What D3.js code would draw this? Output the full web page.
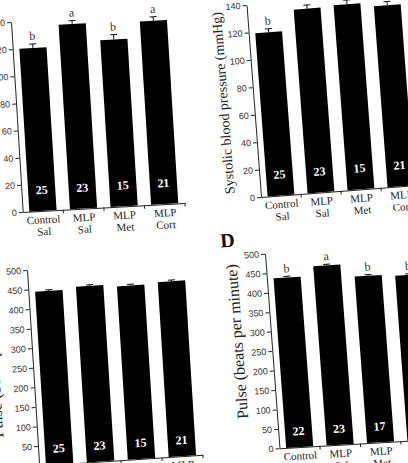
<!DOCTYPE html>
<html>
<head>
<meta charset="utf-8">
<script src="https://cdn.jsdelivr.net/npm/d3@7"></script>
<style>
  html, body { margin: 0; padding: 0; background: #fff; overflow: hidden; }
  svg { display: block; }
</style>
</head>
<body>
<svg id="fig" width="408" height="463"></svg>
<script>
/* ── Data ──────────────────────────────────────────────────────────── */

const GROUPS = [['Control', 'Sal'], ['MLP', 'Sal'], ['MLP', 'Met'], ['MLP', 'Cort']];

const BP_TICKS = [0, 20, 40, 60, 80, 100, 120, 140];
const PULSE_TICKS = [0, 50, 100, 150, 200, 250, 300, 350, 400, 450, 500];

// top left (axis title cut off)
const tlValues = [120, 136, 123, 135];
const tlErrors = [3, 2.5, 3.5, 3];
const tlLetters = ['b', 'a', 'b', 'a'];
const tlN = ['25', '23', '15', '21'];

// top right, systolic blood pressure
const trValues = [119, 134, 135, 132];
const trErrors = [2.5, 2.7, 3, 2.7];
const trLetters = ['b', '', '', ''];
const trN = ['25', '23', '15', '21'];

// bottom left, pulse
const blValues = [443, 449, 443, 447];
const blErrors = [3, 3, 3, 3];
const blLetters = ['', '', '', ''];
const blN = ['25', '23', '15', '21'];

// bottom right (D), pulse
const brValues = [436, 461, 428, 424];
const brErrors = [3, 3, 3, 3];
const brLetters = ['b', 'a', 'b', 'b'];
const brN = ['22', '23', '17', ''];

/* ── Layout (the page is photographed slightly askew) ─────────────── */

const LAYOUT = {
  tl: { top: [11, 22], origin: [22.7, 212], angle: -3.2, width: 162.5, nY: 17 },
  tr: { top: [246.5, 5], origin: [261, 197], angle: -4.4, width: 160.4, nY: 17,
        title: 'Systolic blood pressure (mmHg)', titleX: -26, titleY: 96, titleSize: 14 },
  bl: { top: [27, 270], origin: [39.2, 465.6], angle: -3.8, width: 164, nY: 12,
        title: 'Pulse (beats per minute)', titleX: -34, titleY: 88, titleSize: 16 },
  br: { top: [265, 253.8], origin: [279.5, 448.3], angle: -3.4, width: 162, nY: 12,
        title: 'Pulse (beats per minute)', titleX: -29, titleY: 86, titleSize: 16,
        label: 'D', labelPos: [-43.6, -9] },
};

const SERIF = '"Liberation Serif", "Times New Roman", serif';
const SANS = '"Liberation Sans", Arial, sans-serif';

const svg = d3.select('#fig');

/* ── Panel ─────────────────────────────────────────────────────────── */

function drawPanel(key, values, errors, letters, nLabels, ticks) {
  const L = LAYOUT[key];
  const [tx, ty] = L.top;
  const [ox, oy] = L.origin;
  const H = Math.hypot(ox - tx, oy - ty);
  const a = L.angle * Math.PI / 180;
  const g = svg.append('g')
    .attr('transform', `matrix(${Math.cos(a)},${Math.sin(a)},${(ox - tx) / H},${(oy - ty) / H},${tx},${ty})`);

  const cats = GROUPS.map(d => d.join(' '));
  const x = d3.scaleBand().domain(cats).range([0, L.width]).paddingInner(0.33).paddingOuter(0.165);
  const y = d3.scaleLinear().domain([0, ticks[ticks.length - 1]]).range([H, 0]);
  const rows = cats.map((c, i) => ({ c, v: values[i], e: errors[i], l: letters[i], n: nLabels[i] }));

  // Bars
  g.append('g').selectAll('rect')
    .data(rows)
    .join('rect')
    .attr('x', d => x(d.c))
    .attr('y', d => y(d.v))
    .attr('width', x.bandwidth())
    .attr('height', d => H - y(d.v))
    .attr('fill', '#000');

  // Error bars (upper half)
  const eb = g.append('g').attr('stroke', '#111').attr('stroke-width', 1);
  eb.selectAll('line.v')
    .data(rows)
    .join('line')
    .attr('class', 'v')
    .attr('x1', d => x(d.c) + x.bandwidth() / 2)
    .attr('x2', d => x(d.c) + x.bandwidth() / 2)
    .attr('y1', d => y(d.v))
    .attr('y2', d => y(d.v + d.e));
  eb.selectAll('line.c')
    .data(rows)
    .join('line')
    .attr('class', 'c')
    .attr('x1', d => x(d.c) + x.bandwidth() / 2 - 3.5)
    .attr('x2', d => x(d.c) + x.bandwidth() / 2 + 3.5)
    .attr('y1', d => y(d.v + d.e))
    .attr('y2', d => y(d.v + d.e));

  // Significance letters
  g.append('g').selectAll('text')
    .data(rows.filter(d => d.l))
    .join('text')
    .attr('x', d => x(d.c) + x.bandwidth() / 2)
    .attr('y', d => y(d.v + d.e) - 4)
    .attr('text-anchor', 'middle')
    .attr('font-family', SERIF)
    .attr('font-size', 12)
    .attr('fill', '#333')
    .text(d => d.l);

  // n inside bars
  g.append('g').selectAll('text')
    .data(rows.filter(d => d.n))
    .join('text')
    .attr('x', d => x(d.c) + x.bandwidth() / 2)
    .attr('y', H - L.nY)
    .attr('text-anchor', 'middle')
    .attr('font-family', SERIF)
    .attr('font-weight', 'bold')
    .attr('font-size', 12)
    .attr('fill', '#fff')
    .text(d => d.n);

  // Y axis
  const ya = g.append('g')
    .call(d3.axisLeft(y).tickValues(ticks).tickSize(4).tickSizeOuter(0).tickPadding(2));
  ya.select('.domain').attr('stroke', '#222');
  ya.selectAll('.tick line').attr('stroke', '#222');
  ya.selectAll('.tick text')
    .attr('font-family', SANS)
    .attr('font-size', 9)
    .attr('fill', '#333');

  // X axis
  const xa = g.append('g')
    .attr('transform', `translate(0,${H})`)
    .call(d3.axisBottom(x).tickSize(0).tickPadding(0));
  xa.select('.domain').attr('stroke', '#222');
  xa.selectAll('.tick text').each(function (d, i) {
    const t = d3.select(this).text(null)
      .attr('font-family', SERIF)
      .attr('font-size', 11)
      .attr('fill', '#222')
      .attr('dy', null)
      .attr('y', 0);
    GROUPS[i].forEach((line, j) => {
      t.append('tspan').attr('x', 0).attr('y', 12.5 + j * 12).text(line);
    });
  });
  xa.append('g').selectAll('line')
    .data(d3.range(1, cats.length + 1))
    .join('line')
    .attr('x1', k => x.step() * k)
    .attr('x2', k => x.step() * k)
    .attr('y1', 0)
    .attr('y2', 3.5)
    .attr('stroke', '#222');

  // Axis title
  if (L.title) {
    g.append('text')
      .attr('transform', `translate(${L.titleX},${L.titleY}) rotate(-90)`)
      .attr('text-anchor', 'middle')
      .attr('font-family', SERIF)
      .attr('font-size', L.titleSize)
      .attr('fill', '#222')
      .text(L.title);
  }

  // Panel letter
  if (L.label) {
    g.append('text')
      .attr('x', L.labelPos[0])
      .attr('y', L.labelPos[1])
      .attr('font-family', SERIF)
      .attr('font-weight', 'bold')
      .attr('font-size', 20)
      .attr('fill', '#111')
      .text(L.label);
  }
}

drawPanel('tl', tlValues, tlErrors, tlLetters, tlN, BP_TICKS);
drawPanel('tr', trValues, trErrors, trLetters, trN, BP_TICKS);
drawPanel('bl', blValues, blErrors, blLetters, blN, PULSE_TICKS);
drawPanel('br', brValues, brErrors, brLetters, brN, PULSE_TICKS);
</script>
</body>
</html>
